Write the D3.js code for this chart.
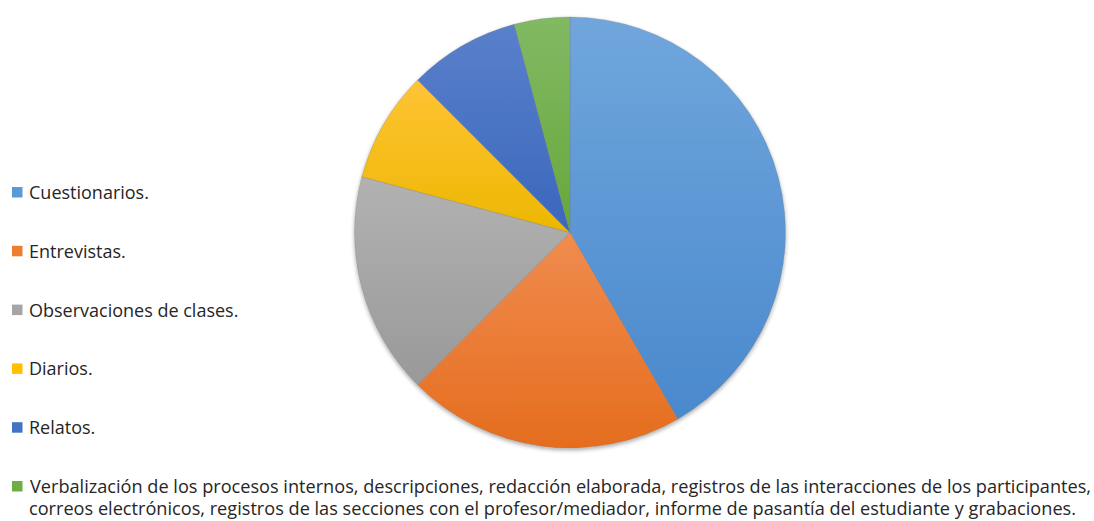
<!DOCTYPE html>
<html>
<head>
<meta charset="utf-8">
<script src="https://cdn.jsdelivr.net/npm/d3@7"></script>
<style>
  body { margin: 0; background: #fff; }
  svg { display: block; }
</style>
</head>
<body>
<script>
// Data
var labels = ["Cuestionarios.", "Entrevistas.", "Observaciones de clases.", "Diarios.", "Relatos.",
	"Verbalización de los procesos internos, descripciones, redacción elaborada, registros de las interacciones de los participantes,"];
var labelLine2 = "correos electrónicos, registros de las secciones con el profesor/mediador, informe de pasantía del estudiante y grabaciones.";
var values = [10, 5, 4, 2, 2, 1];
var topColors = ["#70a6dc", "#f08c4f", "#b2b2b2", "#ffc436", "#5a80cb", "#82b964"];
var bottomColors = ["#4a89cd", "#e56d1e", "#999999", "#ecb700", "#3a67bd", "#66a83a"];
var markColors = ["#5b9bd5", "#ed7d31", "#a5a5a5", "#ffc000", "#4472c4", "#70ad47"];

var w = 1094,
	h = 521,
	cx = 570,
	cy = 232.5,
	r = 215.5;

var svg = d3.select("body")
	.append("svg")
	.attr("width", w)
	.attr("height", h);

var defs = svg.append("defs");

// soft shadow round the pie
var f = defs.append("filter")
	.attr("id", "shadow")
	.attr("x", "-10%").attr("y", "-10%")
	.attr("width", "120%").attr("height", "120%");
f.append("feGaussianBlur").attr("in", "SourceAlpha").attr("stdDeviation", 2);
f.append("feOffset").attr("dx", 0).attr("dy", 1.5).attr("result", "b");
f.append("feComponentTransfer").append("feFuncA").attr("type", "linear").attr("slope", 0.35);
var m = f.append("feMerge");
m.append("feMergeNode");
m.append("feMergeNode").attr("in", "SourceGraphic");

// one vertical gradient per slice
labels.forEach(function(d, i) {
	var g = defs.append("linearGradient")
		.attr("id", "grad" + i)
		.attr("x1", 0).attr("y1", 0)
		.attr("x2", 0).attr("y2", 1);
	g.append("stop").attr("offset", "0%").attr("stop-color", topColors[i]);
	g.append("stop").attr("offset", "100%").attr("stop-color", bottomColors[i]);
});

var pie = d3.pie().sort(null).value(function(d) { return d; });
var arc = d3.arc().innerRadius(0).outerRadius(r);

var pieG = svg.append("g")
	.attr("transform", "translate(" + cx + "," + cy + ")")
	.attr("filter", "url(#shadow)");

pieG.selectAll("path")
	.data(pie(values))
	.enter()
	.append("path")
	.attr("d", arc)
	.attr("fill", function(d, i) { return "url(#grad" + i + ")"; })
	.attr("stroke", "rgba(120,120,120,0.45)")
	.attr("stroke-width", 0.6);

// Legend
var legendY = d3.scalePoint()
	.domain(d3.range(labels.length))
	.range([199, 493]);

var leg = svg.append("g");

leg.selectAll("rect")
	.data(labels)
	.enter()
	.append("rect")
	.attr("x", 12)
	.attr("y", function(d, i) { return legendY(i) - 12; })
	.attr("width", 10.5)
	.attr("height", 10.5)
	.attr("fill", function(d, i) { return markColors[i]; });

leg.selectAll("text.item")
	.data(labels.slice(0, 5))
	.enter()
	.append("text")
	.attr("class", "item")
	.text(function(d) { return d; })
	.attr("x", 29)
	.attr("y", function(d, i) { return legendY(i); })
	.attr("font-family", "'Open Sans', sans-serif")
	.attr("font-size", "18px")
	.attr("fill", "#262626");

// long label, squeezed to fit
leg.append("text")
	.text(labels[5])
	.attr("x", 30)
	.attr("y", legendY(5))
	.attr("textLength", 1061)
	.attr("lengthAdjust", "spacingAndGlyphs")
	.attr("font-family", "'Open Sans', sans-serif")
	.attr("font-size", "18px")
	.attr("fill", "#262626");
leg.append("text")
	.text(labelLine2)
	.attr("x", 29)
	.attr("y", legendY(5) + 22)
	.attr("textLength", 1047)
	.attr("lengthAdjust", "spacingAndGlyphs")
	.attr("font-family", "'Open Sans', sans-serif")
	.attr("font-size", "18px")
	.attr("fill", "#262626");
</script>
</body>
</html>
